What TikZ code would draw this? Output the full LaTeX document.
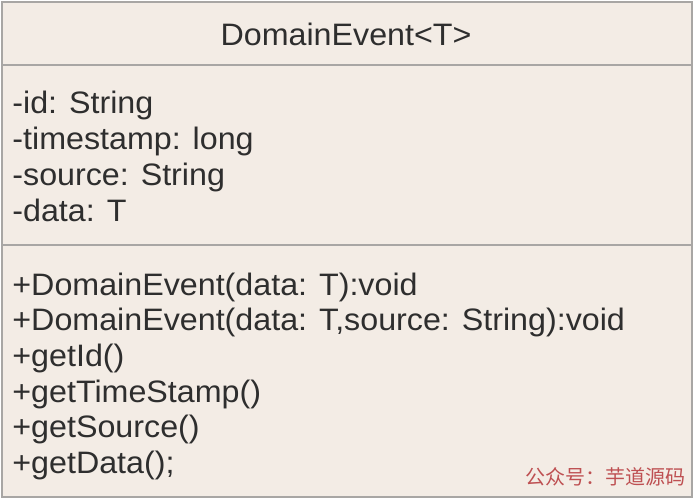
\documentclass[tikz,border=0pt]{standalone}
\usepackage{fontspec}
\setmainfont[FakeStretch=1.04]{Liberation Sans}
\newfontfamily\cjk{Noto Sans CJK SC}
\definecolor{classbg}{RGB}{243,236,229}
\definecolor{classline}{RGB}{168,166,164}
\definecolor{marktext}{RGB}{190,80,82}

\begin{document}
\begin{tikzpicture}
        [x=0.5pt, y=-0.5pt,
        every node/.style={anchor=base west, inner sep=0pt,
          font=\fontsize{15.5}{18}\selectfont, text=black!82},
        title/.style={anchor=base},
        member/.style={},
        watermark/.style={font=\cjk\fontsize{10}{12}\selectfont, text=marktext},
        border/.style={draw=classline, line width=1pt}]

    \useasboundingbox (0,0) rectangle (695,500);

    % class box
    \draw[border, fill=classbg] (1.5,2) rectangle (692,497);
    \draw[border] (1.5,64.5) -- (692,64.5);
    \draw[border] (1.5,245) -- (692,245);

    \node[title] (name) at (346,45) {DomainEvent<T>};

    % attributes
    \node[member] (id)   at (12,113) {-id: String};
    \node[member] (ts)   at (12,149) {-timestamp: long};
    \node[member] (src)  at (12,185) {-source: String};
    \node[member] (data) at (12,221) {-data: T};

    % operations
    \node[member] (ctor1) at (12,295) {+DomainEvent(data: T):void};
    \node[member] (ctor2) at (12,330) {+DomainEvent(data: T,source: String):void};
    \node[member] (getid) at (12,366) {+getId()};
    \node[member] (getts) at (12,402) {+getTimeStamp()};
    \node[member] (getsrc) at (12,437) {+getSource()};
    \node[member] (getdata) at (12,473) {+getData();};

    \node[watermark] (wm) at (525,484) {公众号：芋道源码};
    \end{tikzpicture}
\end{document}
